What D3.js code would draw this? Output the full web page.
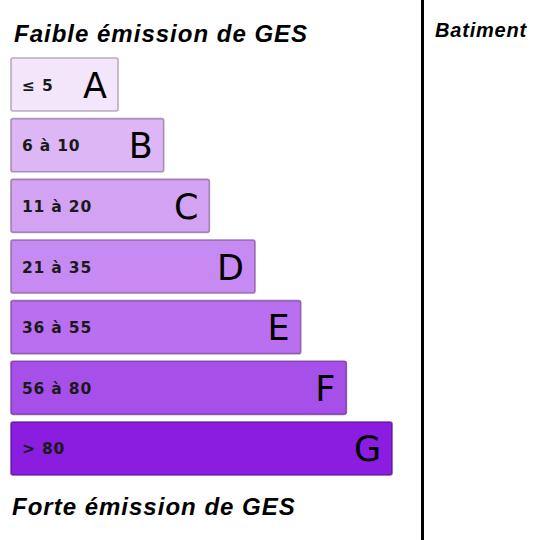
<!DOCTYPE html>
<html>
<head>
<meta charset="utf-8">
<script src="https://cdn.jsdelivr.net/npm/d3@7"></script>
<style>
  html, body { margin: 0; padding: 0; background: #ffffff; }
  svg { display: block; }
</style>
</head>
<body>
<svg id="chart" width="540" height="540"></svg>
<script>
const classes = ["A", "B", "C", "D", "E", "F", "G"];
const ranges = ["≤ 5", "6 à 10", "11 à 20", "21 à 35", "36 à 55", "56 à 80", "> 80"];
const levels = [1, 2, 3, 4, 5, 6, 7];
const colors = ["#f3e6fb", "#ddb6f5", "#d3a2f3", "#c68af2", "#b96ff0", "#a64fe9", "#8a1de0"];
const topLabel = "Faible émission de GES";
const bottomLabel = "Forte émission de GES";
const sideLabel = "Batiment";

const svg = d3.select("#chart");
const x0 = 11;
const x = d3.scaleLinear().domain([1, 7]).range([107, 381]);
const y = d3.scaleBand().domain(classes).range([58, 475]).paddingInner(0.126).paddingOuter(0);

const data = classes.map((c, i) => ({ c, r: ranges[i], v: levels[i], col: colors[i] }));

svg.append("text")
  .attr("x", 14).attr("y", 42)
  .attr("font-family", "Liberation Sans, Arial, sans-serif")
  .attr("font-size", 24).attr("font-weight", "bold").attr("font-style", "italic")
  .attr("letter-spacing", 1)
  .attr("fill", "#000")
  .text(topLabel);

svg.append("text")
  .attr("x", 12).attr("y", 515)
  .attr("font-family", "Liberation Sans, Arial, sans-serif")
  .attr("font-size", 24).attr("font-weight", "bold").attr("font-style", "italic")
  .attr("letter-spacing", 1)
  .attr("fill", "#000")
  .text(bottomLabel);

svg.append("text")
  .attr("x", 435).attr("y", 37)
  .attr("font-family", "Liberation Sans, Arial, sans-serif")
  .attr("font-size", 20).attr("font-weight", "bold").attr("font-style", "italic")
  .attr("letter-spacing", 0.8)
  .attr("fill", "#000")
  .text(sideLabel);

svg.append("line")
  .attr("x1", 422.5).attr("x2", 422.5).attr("y1", 0).attr("y2", 540)
  .attr("stroke", "#000").attr("stroke-width", 3);

const g = svg.selectAll("g.bar").data(data).join("g").attr("class", "bar");

g.append("rect")
  .attr("x", x0)
  .attr("y", d => y(d.c))
  .attr("width", d => x(d.v))
  .attr("height", y.bandwidth())
  .attr("rx", 2)
  .attr("fill", d => d.col)
  .attr("stroke", d => d3.color(d.col).darker(1.2).copy({opacity: 0.75}))
  .attr("stroke-width", 1.6);

g.append("text")
  .attr("x", x0 + 11)
  .attr("y", d => y(d.c) + y.bandwidth() / 2 + 6)
  .attr("font-family", "DejaVu Sans, Verdana, sans-serif")
  .attr("font-size", 15.5).attr("font-weight", "bold")
  .attr("letter-spacing", 0.8)
  .attr("fill", "#1a1a1a")
  .text(d => d.r);

g.append("text")
  .attr("x", d => x0 + x(d.v) - 11)
  .attr("y", d => y(d.c) + y.bandwidth() / 2 + 13)
  .attr("text-anchor", "end")
  .attr("font-family", "DejaVu Sans, Verdana, sans-serif")
  .attr("font-size", 35)
  .attr("fill", "#000")
  .text(d => d.c);
</script>
</body>
</html>
